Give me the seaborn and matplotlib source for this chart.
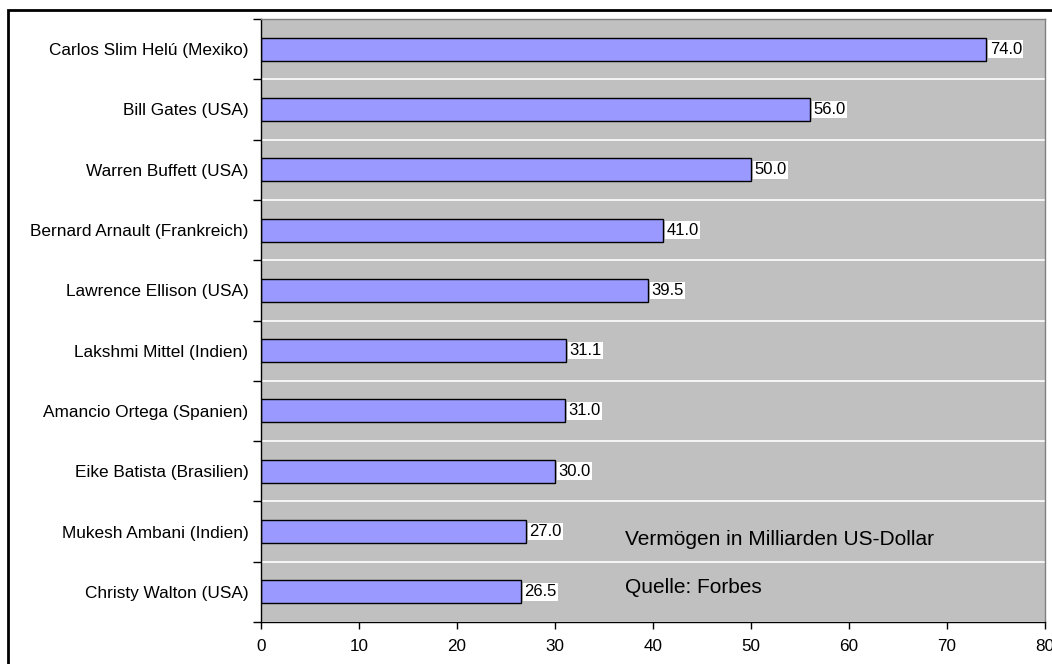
import numpy as np
import pandas as pd
import seaborn as sns
import matplotlib
matplotlib.use("Agg")
import matplotlib.pyplot as plt
from matplotlib.patches import Rectangle

# Forbes richest people, top to bottom
names = [
    "Carlos Slim Helú (Mexiko)",
    "Bill Gates (USA)",
    "Warren Buffett (USA)",
    "Bernard Arnault (Frankreich)",
    "Lawrence Ellison (USA)",
    "Lakshmi Mittel (Indien)",
    "Amancio Ortega (Spanien)",
    "Eike Batista (Brasilien)",
    "Mukesh Ambani (Indien)",
    "Christy Walton (USA)",
]
wealth = [74.0, 56.0, 50.0, 41.0, 39.5, 31.1, 31.0, 30.0, 27.0, 26.5]
x_ticks = [0, 10, 20, 30, 40, 50, 60, 70, 80]

sns.set_style("ticks")
plt.rcParams["font.family"] = ["Liberation Sans", "DejaVu Sans"]
plt.rcParams["text.color"] = "black"
plt.rcParams["xtick.labelcolor"] = "black"
plt.rcParams["ytick.labelcolor"] = "black"

df = pd.DataFrame({"name": names, "wealth": wealth})

fig = plt.figure(figsize=(10.52, 6.64), dpi=100)
ax = fig.add_axes([261 / 1052, 1 - 622 / 664, (1045 - 261) / 1052, (622 - 19) / 664])

sns.barplot(data=df, x="wealth", y="name", order=names, orient="h", ax=ax,
            color="#9999ff", saturation=1, width=0.38,
            edgecolor="black", linewidth=1)

ax.set_facecolor("#c0c0c0")
ax.set_xlim(0, 80)
ax.set_ylim(len(names) - 0.5, -0.5)
ax.set_xticks(x_ticks)
ax.set_xlabel("")
ax.set_ylabel("")
ax.tick_params(axis="x", labelsize=12.3, length=5, width=1, color="black", pad=7)
ax.tick_params(axis="y", which="major", labelsize=12.4, length=0, pad=9)
ax.set_yticks(np.arange(-0.5, len(names), 1.0), minor=True)
ax.tick_params(axis="y", which="minor", length=6, width=1, color="black")
ax.grid(axis="y", which="minor", color="white", linewidth=1.2)
ax.set_axisbelow(True)

for side in ("left", "bottom"):
    ax.spines[side].set_color("black")
    ax.spines[side].set_linewidth(1)
for side in ("top", "right"):
    ax.spines[side].set_visible(True)
    ax.spines[side].set_color("#808080")
    ax.spines[side].set_linewidth(1)

for i, v in enumerate(wealth):
    ax.text(v + 0.35, i, f"{v:.1f}", va="center", ha="left", fontsize=12,
            bbox=dict(facecolor="white", edgecolor="none", pad=1))

ax.text(0.464, 0.136, "Vermögen in Milliarden US-Dollar", transform=ax.transAxes,
        fontsize=15, va="center", ha="left")
ax.text(0.464, 0.058, "Quelle: Forbes", transform=ax.transAxes,
        fontsize=15, va="center", ha="left")

# outer chart border
fig.add_artist(Rectangle((8 / 1052, -0.05), 1.1, 1 - 10 / 664 + 0.05,
                         transform=fig.transFigure, fill=False,
                         edgecolor="black", linewidth=2))

fig.savefig("out.png", dpi=100)
